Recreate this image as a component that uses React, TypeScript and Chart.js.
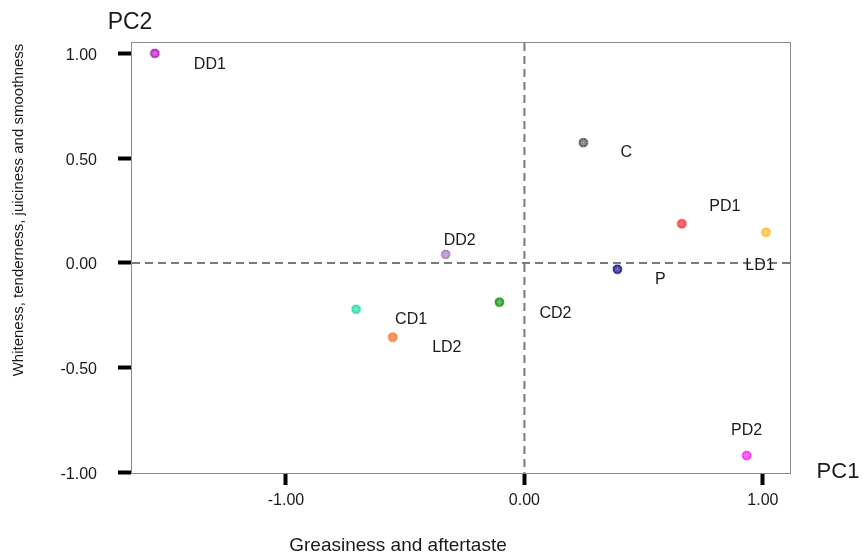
import React, { useEffect, useRef } from "react";
import { Chart, registerables } from "chart.js";

Chart.register(...registerables);

const NAMES = ["DD1", "C", "PD1", "LD1", "P", "DD2", "CD2", "CD1", "LD2", "PD2"];
const PC1_VALUES = [-1.55, 0.247, 0.66, 1.013, 0.39, -0.33, -0.105, -0.706, -0.552, 0.932];
const PC2_VALUES = [1.0, 0.574, 0.187, 0.146, -0.03, 0.041, -0.187, -0.221, -0.354, -0.919];
const COLORS = ["#b820c0", "#606060", "#ff3c3c", "#ffc030", "#20208c", "#b080c0", "#209820", "#30dcb0", "#ff7830", "#ff30ff"];
const LABEL_OFFSETS = [[55, 11], [43, 10], [43, -17], [-6, 33], [43, 10], [14, -14], [56, 11], [55, 10], [54, 10], [0, -25]];
const X_TICKS = [-1, 0, 1];
const Y_TICKS = [-1, -0.5, 0, 0.5, 1];
const X_TITLE = "Greasiness and aftertaste";
const Y_TITLE = "Whiteness, tenderness, juiciness and smoothness";
const X_NAME = "PC1";
const Y_NAME = "PC2";

const FONT = "'Liberation Sans', Arial, sans-serif";

function makeMarker(color: string): HTMLCanvasElement {
  const c = document.createElement("canvas");
  c.width = 11;
  c.height = 11;
  const g = c.getContext("2d")!;
  g.fillStyle = color;
  g.beginPath();
  g.arc(5.5, 5.5, 4.8, 0, Math.PI * 2);
  g.fill();
  g.strokeStyle = "rgba(255,255,255,0.35)";
  g.lineWidth = 0.7;
  g.beginPath();
  g.arc(5.5, 5.5, 2.2, 0, Math.PI * 2);
  g.stroke();
  for (let k = 0; k < 4; k++) {
    const a = (k * Math.PI) / 4;
    g.beginPath();
    g.moveTo(5.5 - Math.cos(a) * 4.3, 5.5 - Math.sin(a) * 4.3);
    g.lineTo(5.5 + Math.cos(a) * 4.3, 5.5 + Math.sin(a) * 4.3);
    g.stroke();
  }
  return c;
}

export default function App() {
  const ref = useRef<HTMLCanvasElement | null>(null);

  useEffect(() => {
    if (!ref.current) return;
    const markers = COLORS.map(makeMarker);

    const decor = {
      id: "decor",
      beforeDatasetsDraw(chart: any) {
        const { ctx, chartArea: a, scales } = chart;
        ctx.save();
        ctx.strokeStyle = "#8a8a8a";
        ctx.lineWidth = 1;
        ctx.strokeRect(Math.round(a.left) + 0.5, Math.round(a.top) + 0.5, Math.round(a.right - a.left) - 1, Math.round(a.bottom - a.top) - 1);
        ctx.strokeStyle = "#7a7a7a";
        ctx.lineWidth = 2;
        ctx.setLineDash([8, 5]);
        const x0 = scales.x.getPixelForValue(0);
        const y0 = scales.y.getPixelForValue(0);
        ctx.beginPath();
        ctx.moveTo(x0, a.top + 1);
        ctx.lineTo(x0, a.bottom - 1);
        ctx.stroke();
        ctx.beginPath();
        ctx.moveTo(a.left + 1, y0);
        ctx.lineTo(a.right - 1, y0);
        ctx.stroke();
        ctx.restore();
      },
      afterDraw(chart: any) {
        const { ctx, scales } = chart;
        ctx.save();
        ctx.fillStyle = "#1a1a1a";
        ctx.textAlign = "center";
        ctx.textBaseline = "middle";
        ctx.font = `16px ${FONT}`;
        NAMES.forEach((n, i) => {
          const px = scales.x.getPixelForValue(PC1_VALUES[i]);
          const py = scales.y.getPixelForValue(PC2_VALUES[i]);
          ctx.fillText(n, px + LABEL_OFFSETS[i][0], py + LABEL_OFFSETS[i][1]);
        });
        ctx.font = `23px ${FONT}`;
        ctx.fillText(Y_NAME, 130, 23);
        ctx.font = `22px ${FONT}`;
        ctx.fillText(X_NAME, 838, 472);
        ctx.font = `19px ${FONT}`;
        ctx.fillText(X_TITLE, 398, 546);
        ctx.font = `15px ${FONT}`;
        ctx.translate(19, 210);
        ctx.rotate(-Math.PI / 2);
        ctx.fillText(Y_TITLE, 0, 0);
        ctx.restore();
      },
    };

    const chart = new Chart(ref.current, {
      type: "scatter",
      data: {
        datasets: [
          {
            data: PC1_VALUES.map((x, i) => ({ x, y: PC2_VALUES[i] })),
            pointStyle: markers as any,
            backgroundColor: COLORS,
            borderColor: COLORS,
            pointRadius: 5,
          },
        ],
      },
      options: {
        responsive: false,
        animation: false,
        devicePixelRatio: 1,
        layout: { padding: { left: 0, top: 42, right: 72, bottom: 0 } },
        plugins: { legend: { display: false }, tooltip: { enabled: false } },
        scales: {
          x: {
            type: "linear",
            position: "bottom",
            min: -1.65,
            max: 1.118,
            afterBuildTicks: (s: any) => {
              s.ticks = X_TICKS.map((v) => ({ value: v }));
            },
            afterFit: (s: any) => {
              s.height = 82;
            },
            border: { display: false },
            grid: { drawOnChartArea: false, drawTicks: true, tickLength: 11, tickWidth: 4, tickColor: "#000", lineWidth: 1, color: "#000" },
            ticks: {
              padding: 6,
              color: "#1a1a1a",
              font: { family: FONT, size: 16 },
              maxRotation: 0,
              callback: (v: any) => Number(v).toFixed(2),
            },
          },
          y: {
            type: "linear",
            position: "left",
            min: -1.007,
            max: 1.054,
            afterBuildTicks: (s: any) => {
              s.ticks = Y_TICKS.map((v) => ({ value: v }));
            },
            afterFit: (s: any) => {
              s.width = 131;
            },
            border: { display: false },
            grid: { drawOnChartArea: false, drawTicks: true, tickLength: 13, tickWidth: 4, tickColor: "#000", lineWidth: 1, color: "#000" },
            ticks: {
              padding: 21,
              labelOffset: 2,
              color: "#1a1a1a",
              font: { family: FONT, size: 16 },
              callback: (v: any) => Number(v).toFixed(2),
            },
          },
        },
      },
      plugins: [decor],
    });
    return () => chart.destroy();
  }, []);

  return (
    <div style={{ position: "absolute", left: 0, top: 0, width: 863, height: 556, background: "#fff" }}>
      <canvas ref={ref} width={863} height={556} style={{ display: "block" }} />
    </div>
  );
}
